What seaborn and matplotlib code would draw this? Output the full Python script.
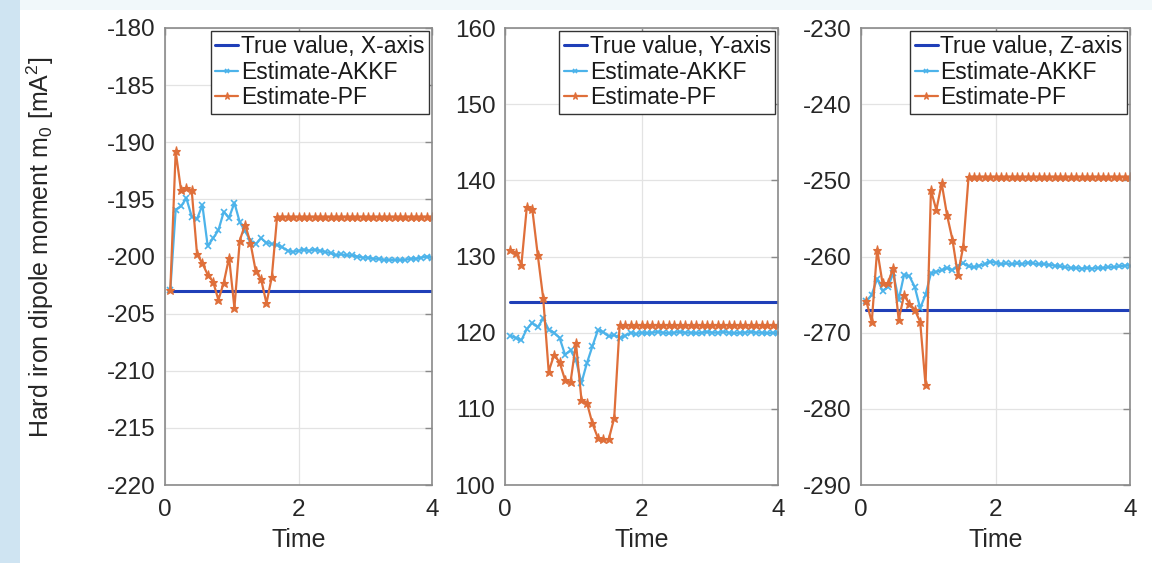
import numpy as np
import pandas as pd
import matplotlib
matplotlib.use("Agg")
import matplotlib.pyplot as plt
import seaborn as sns
from matplotlib.patches import Rectangle

sns.set_theme(style="white")
plt.rcParams['font.family'] = ['Liberation Sans', 'DejaVu Sans']
plt.rcParams['mathtext.fontset'] = 'custom'
plt.rcParams['mathtext.rm'] = 'Liberation Sans'
plt.rcParams['mathtext.it'] = 'Liberation Sans'
plt.rcParams['axes.unicode_minus'] = False

# ---------------- data ----------------
time = np.round(np.arange(1, 51) * 0.08, 2)

true_x = -203.0
true_y = 124.0
true_z = -267.0

akkf_x = [-202.9, -195.9, -195.6, -194.9, -196.5, -196.7, -195.5, -199.1, -198.4, -197.7,
          -196.1, -196.6, -195.3, -197.0, -197.8, -198.6, -198.9, -198.4, -198.8, -198.9,
          -199.0, -199.2, -199.5, -199.6, -199.5, -199.4, -199.5, -199.4, -199.5, -199.6,
          -199.7, -199.9, -199.8, -199.9, -199.9, -200.0, -200.1, -200.1, -200.2, -200.2,
          -200.3, -200.3, -200.3, -200.3, -200.3, -200.2, -200.2, -200.1, -200.0, -200.1]
pf_x = [-202.9, -190.8, -194.2, -194.0, -194.2, -199.8, -200.6, -201.6, -202.2, -203.8,
        -202.3, -200.1, -204.5, -198.6, -197.2, -198.8, -201.3, -202.0, -204.1, -201.8,
        -196.5, -196.5, -196.5, -196.5, -196.5, -196.5, -196.5, -196.5, -196.5, -196.5,
        -196.5, -196.5, -196.5, -196.5, -196.5, -196.5, -196.5, -196.5, -196.5, -196.5,
        -196.5, -196.5, -196.5, -196.5, -196.5, -196.5, -196.5, -196.5, -196.5, -196.5]

akkf_y = [119.6, 119.3, 119.0, 120.5, 121.3, 120.7, 121.9, 120.4, 120.0, 119.3,
          117.1, 117.7, 116.4, 113.4, 116.0, 118.2, 120.3, 120.1, 119.5, 119.7,
          119.3, 119.6, 120.0, 119.8, 120.0, 119.9, 120.0, 120.1, 120.0, 119.9,
          120.0, 120.1, 120.0, 120.0, 119.9, 120.0, 120.1, 120.0, 120.0, 120.1,
          120.0, 119.9, 120.0, 120.0, 120.1, 120.0, 120.0, 119.9, 120.0, 120.0]
pf_y = [130.8, 130.5, 128.9, 136.5, 136.2, 130.2, 124.5, 114.9, 117.1, 116.1,
        113.8, 113.5, 118.6, 111.2, 110.8, 108.1, 106.2, 106.0, 106.0, 108.8,
        121.0, 121.0, 121.0, 121.0, 121.0, 121.0, 121.0, 121.0, 121.0, 121.0,
        121.0, 121.0, 121.0, 121.0, 121.0, 121.0, 121.0, 121.0, 121.0, 121.0,
        121.0, 121.0, 121.0, 121.0, 121.0, 121.0, 121.0, 121.0, 121.0, 121.0]

akkf_z = [-265.9, -265.0, -262.9, -264.5, -264.0, -262.2, -265.7, -262.4, -262.6, -264.0,
          -266.8, -265.0, -262.2, -262.0, -261.8, -261.5, -261.8, -261.2, -260.9, -261.3,
          -261.4, -261.2, -261.0, -260.7, -260.8, -261.0, -260.9, -261.0, -260.9, -261.0,
          -260.8, -260.9, -261.0, -261.0, -261.1, -261.2, -261.3, -261.4, -261.5, -261.5,
          -261.6, -261.5, -261.6, -261.5, -261.5, -261.4, -261.4, -261.3, -261.2, -261.2]
pf_z = [-265.9, -268.6, -259.1, -263.5, -263.5, -261.5, -268.3, -265.1, -266.2, -267.0,
        -268.6, -276.9, -251.3, -253.9, -250.4, -254.6, -257.8, -262.4, -258.7, -249.5,
        -249.5, -249.5, -249.5, -249.5, -249.5, -249.5, -249.5, -249.5, -249.5, -249.5,
        -249.5, -249.5, -249.5, -249.5, -249.5, -249.5, -249.5, -249.5, -249.5, -249.5,
        -249.5, -249.5, -249.5, -249.5, -249.5, -249.5, -249.5, -249.5, -249.5, -249.5]

axis_names = ["X-axis", "Y-axis", "Z-axis"]
true_vals = [true_x, true_y, true_z]
akkf_vals = [akkf_x, akkf_y, akkf_z]
pf_vals = [pf_x, pf_y, pf_z]
ylims = [(-220, -180), (100, 160), (-290, -230)]
ysteps = [5, 10, 10]
xticks = [0, 2, 4]

# ---------------- styling ----------------
C_TRUE = "#1f3fb8"
C_AKKF = "#4cb3ea"
C_PF = "#df6f3a"

fig = plt.figure(figsize=(11.52, 5.63), dpi=100, facecolor="white")
fig.patches.append(Rectangle((0, 0), 20 / 1152, 1, transform=fig.transFigure,
                             facecolor="#cfe4f2", edgecolor="none", zorder=0))
fig.patches.append(Rectangle((20 / 1152, 1 - 10 / 563), 1, 10 / 563, transform=fig.transFigure,
                             facecolor="#f1f8fa", edgecolor="none", zorder=0))

lefts = [165, 505, 861]
rights = [432, 778, 1130]
top_px, bot_px = 28, 485

for i in range(3):
    l = lefts[i] / 1152
    w = (rights[i] - lefts[i]) / 1152
    b = 1 - bot_px / 563
    h = (bot_px - top_px) / 563
    ax = fig.add_axes([l, b, w, h])
    ax.set_facecolor("white")

    df = pd.DataFrame({"Time": time,
                       "true": np.full(len(time), true_vals[i]),
                       "akkf": akkf_vals[i],
                       "pf": pf_vals[i]})
    sns.lineplot(data=df, x="Time", y="true", ax=ax, color=C_TRUE, lw=2.2,
                 label=f"True value, {axis_names[i]}")
    sns.lineplot(data=df, x="Time", y="akkf", ax=ax, color=C_AKKF, lw=1.6,
                 marker="x", markersize=4, markeredgewidth=1.2, markeredgecolor=C_AKKF,
                 label="Estimate-AKKF")
    sns.lineplot(data=df, x="Time", y="pf", ax=ax, color=C_PF, lw=1.6,
                 marker="*", markersize=6.5, markeredgewidth=0.8, markeredgecolor=C_PF,
                 label="Estimate-PF")

    ax.set_xlim(0, 4)
    ax.set_ylim(*ylims[i])
    ax.set_xticks(xticks)
    ax.set_yticks(np.arange(ylims[i][0], ylims[i][1] + 0.1, ysteps[i]))
    ax.grid(True, color="#e3e3e3", lw=0.9)
    ax.set_axisbelow(True)
    for s in ax.spines.values():
        s.set_color("#8a8a8a")
        s.set_linewidth(1.2)
    ax.tick_params(direction="in", length=5, width=1, colors="#8a8a8a",
                   top=True, right=True, labelsize=17.5, labelcolor="#262626")
    ax.tick_params(axis="x", pad=10)
    ax.tick_params(axis="y", pad=7)
    ax.set_xlabel("Time", fontsize=18, color="#262626", labelpad=5)
    if i == 0:
        ax.set_ylabel(r"Hard iron dipole moment m$_0$ [mA$^2$]", fontsize=18,
                      color="#262626")
        ax.yaxis.set_label_coords(-0.41, 0.52)
    else:
        ax.set_ylabel("")

    leg = ax.legend(loc="upper right", fontsize=16.5, frameon=True, fancybox=False,
                    handlelength=1.0, handletextpad=0.12, borderpad=0.2,
                    labelspacing=0.1, borderaxespad=0.12, markerscale=0.8)
    leg.get_frame().set_edgecolor("#333333")
    leg.get_frame().set_linewidth(1.0)
    leg.get_frame().set_facecolor("white")
    leg.get_frame().set_alpha(1.0)
    for t in leg.get_texts():
        t.set_color("#1a1a1a")

fig.savefig("out.png", dpi=100, facecolor=fig.get_facecolor())
